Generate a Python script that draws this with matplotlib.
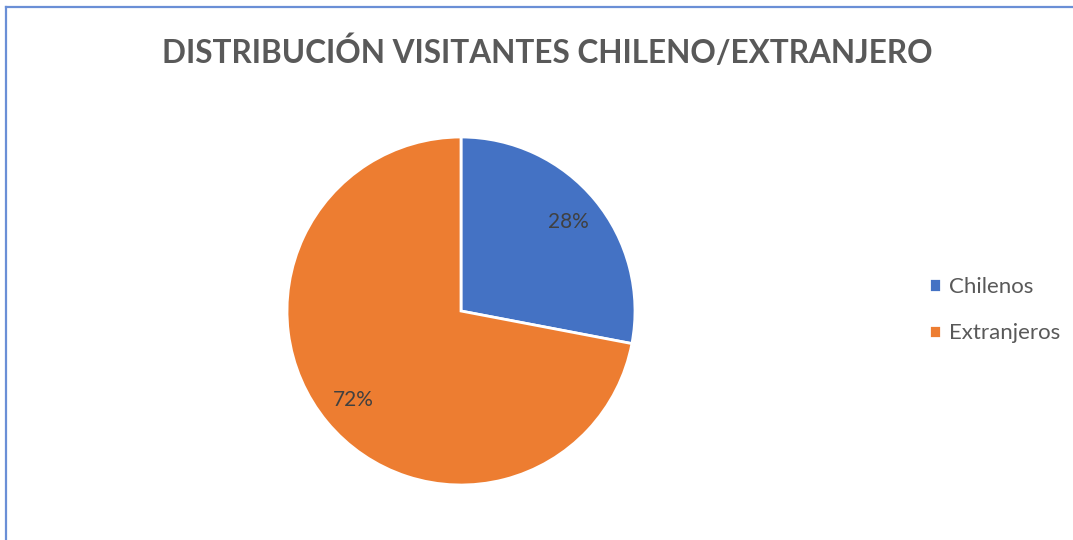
import matplotlib.pyplot as plt
from matplotlib.lines import Line2D

categories = ["Chilenos", "Extranjeros"]
values = [28, 72]
colors = ["#4472C4", "#ED7D31"]
title = "DISTRIBUCIÓN VISITANTES CHILENO/EXTRANJERO"

W, H = 1073, 540
fig = plt.figure(figsize=(W / 100, H / 100), dpi=100)
fig.patch.set_facecolor("white")

# chart frame (cut off at right and bottom)
frame_col = "#6A8FD6"
fig.lines.append(Line2D([5.5 / W, 5.5 / W], [0, (H - 7) / H], transform=fig.transFigure,
                        color=frame_col, linewidth=1.6))
fig.lines.append(Line2D([5.5 / W, 1], [(H - 7) / H, (H - 7) / H], transform=fig.transFigure,
                        color=frame_col, linewidth=1.6))

fig.text(547 / W, 1 - 52 / H, title, ha="center", va="center", fontsize=22.7,
         fontweight="bold", color="#595959", family="Lato")

# pie centre (461, 311), radius 174 px
ax = fig.add_axes([287 / W, (H - 485) / H, 348 / W, 348 / H])
wedges, texts, autotexts = ax.pie(values, colors=colors, startangle=90, counterclock=False,
                                  autopct="%1.0f%%", pctdistance=0.8,
                                  wedgeprops=dict(edgecolor="white", linewidth=2),
                                  textprops=dict(fontsize=15, color="#404040", family="Lato"))
ax.set_xlim(-1, 1)
ax.set_ylim(-1, 1)

fig.legend(wedges, categories, loc="center left", bbox_to_anchor=(929 / W, 1 - 310 / H),
           frameon=False, handlelength=0.55, handleheight=0.55, borderpad=0,
           borderaxespad=0, handletextpad=0.35, labelspacing=1.2,
           prop=dict(family="Lato", size=16), labelcolor="#595959")

fig.savefig("out.png", dpi=100)
